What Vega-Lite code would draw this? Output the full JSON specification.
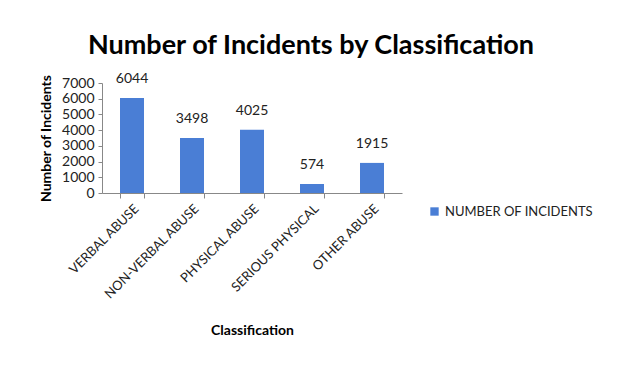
{
  "$schema": "https://vega.github.io/schema/vega-lite/v6.json",
  "autosize": "none",
  "width": 300,
  "height": 110,
  "padding": {"left": 102, "top": 83, "right": 220, "bottom": 179},
  "background": "white",
  "title": {
    "text": "Number of Incidents by Classification",
    "font": "Lato",
    "fontSize": 27,
    "fontWeight": "bold",
    "color": "black",
    "anchor": "middle",
    "dx": 59,
    "offset": 12
  },
  "data": {
    "values": [
      {"classification": "VERBAL ABUSE", "incidents": 6044, "series": "NUMBER OF INCIDENTS"},
      {"classification": "NON-VERBAL ABUSE", "incidents": 3498, "series": "NUMBER OF INCIDENTS"},
      {"classification": "PHYSICAL ABUSE", "incidents": 4025, "series": "NUMBER OF INCIDENTS"},
      {"classification": "SERIOUS PHYSICAL", "incidents": 574, "series": "NUMBER OF INCIDENTS"},
      {"classification": "OTHER ABUSE", "incidents": 1915, "series": "NUMBER OF INCIDENTS"}
    ]
  },
  "encoding": {
    "x": {
      "field": "classification",
      "type": "nominal",
      "sort": null,
      "scale": {"paddingInner": 0.6, "paddingOuter": 0.3},
      "axis": {
        "title": "Classification",
        "titleFont": "Lato",
        "titleFontSize": 14,
        "titleFontWeight": "bold",
        "titleColor": "black",
        "titlePadding": 22,
        "labelAngle": -45,
        "labelFont": "Lato",
        "labelFontSize": 13,
        "labelColor": "#222",
        "labelPadding": 4,
        "tickBand": "extent",
        "tickColor": "#888",
        "domainColor": "#888",
        "tickSize": 5
      }
    },
    "y": {
      "field": "incidents",
      "type": "quantitative",
      "scale": {"domain": [0, 7000]},
      "axis": {
        "title": "Number of Incidents",
        "titleFont": "Lato",
        "titleFontSize": 14,
        "titleFontWeight": "bold",
        "titleColor": "black",
        "titlePadding": 8,
        "values": [0, 1000, 2000, 3000, 4000, 5000, 6000, 7000],
        "format": "d",
        "grid": false,
        "labelFont": "Lato",
        "labelFontSize": 14,
        "labelColor": "#222",
        "labelPadding": 4,
        "tickColor": "#888",
        "domainColor": "#888",
        "tickSize": 4
      }
    }
  },
  "layer": [
    {
      "mark": {"type": "bar", "color": "#4a7ed5"},
      "encoding": {
        "color": {
          "field": "series",
          "type": "nominal",
          "scale": {"range": ["#4a7ed5"]},
          "legend": {
            "title": null,
            "orient": "none",
            "legendX": 326,
            "legendY": 122,
            "symbolType": "square",
            "symbolSize": 70,
            "labelFont": "Lato",
            "labelFontSize": 13,
            "labelColor": "#222"
          }
        }
      }
    },
    {
      "mark": {"type": "text", "dy": -12, "baseline": "bottom", "font": "Lato", "fontSize": 14, "color": "#222"},
      "encoding": {"text": {"field": "incidents", "type": "quantitative", "format": "d"}}
    }
  ],
  "config": {"view": {"stroke": null}}
}
